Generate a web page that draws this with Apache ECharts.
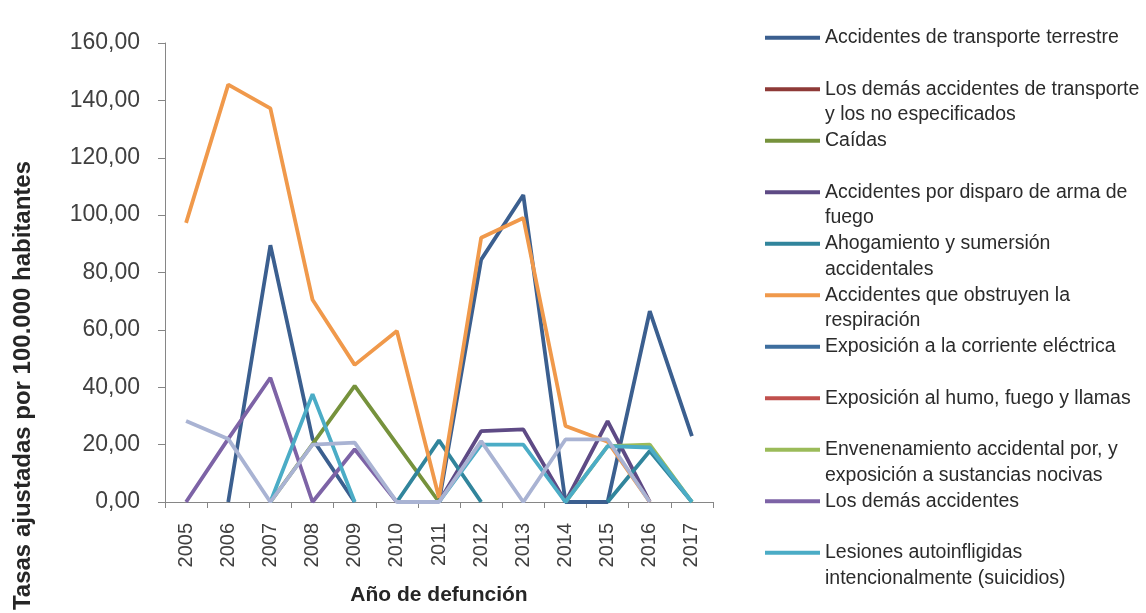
<!DOCTYPE html>
<html>
<head>
<meta charset="utf-8">
<script src="https://cdn.jsdelivr.net/npm/echarts@6/dist/echarts.min.js"></script>
<style>
  html, body { margin: 0; padding: 0; background: #fff; }
  #chartContainer { width: 1146px; height: 613px; }
</style>
</head>
<body>
<div id="chartContainer"></div>
<script>
'use strict';
// años (eje x)
var years = ['2005','2006','2007','2008','2009','2010','2011','2012','2013','2014','2015','2016','2017'];

// tasas por causa (null = sin dato)
var transporteTerrestre = [null, 0, 89.5, 22, 0, null, 0, 84.5, 107, 0, 0, 66.5, 23];
var demasTransporte     = [null, null, null, null, null, null, null, null, null, null, null, null, null];
var caidas              = [null, null, 0, 20.2, 40.5, 20.2, 0, null, null, null, null, null, null];
var disparoArma         = [null, null, null, null, null, null, 0, 24.7, 25.3, 0, 28.2, 0, null];
var ahogamiento         = [null, null, null, null, null, 0, 21.5, 0, null, null, 0, 17.8, 0];
var obstruyenResp       = [97.3, 145.5, 137.2, 70.5, 47.8, 59.6, 1.5, 92.1, 99, 26.5, 21, 0, null];
var corrienteElectrica  = [null, null, null, null, null, null, null, null, null, null, null, null, null];
var humoFuego           = [null, null, null, null, null, null, null, null, null, null, null, null, null];
var envenenamiento      = [null, null, null, null, null, null, null, null, null, 0, 19.5, 20, 0];
var demasAccidentes     = [0, 22, 43.3, 0, 18.4, 0, null, null, null, null, null, null, null];
var lesiones            = [null, null, 0, 37.6, 0, null, 0, 20, 20, 0, 19.5, 19, 0];
var otrasCausas         = [28.2, 22, 0, 20, 20.7, 0, 0, 21.2, 0, 21.8, 21.8, 0, null];

// nombres de la leyenda
var names = [
    'Accidentes de transporte terrestre',
    'Los demás accidentes de transporte y los no especificados',
    'Caídas',
    'Accidentes por disparo de arma de fuego',
    'Ahogamiento y sumersión accidentales',
    'Accidentes que obstruyen la respiración',
    'Exposición a la corriente eléctrica',
    'Exposición al humo, fuego y llamas',
    'Envenenamiento accidental por, y exposición a sustancias nocivas',
    'Los demás accidentes',
    'Lesiones autoinfligidas intencionalmente (suicidios)'
];
// texto partido en dos renglones como en el original
var legendLines = [
    ['Accidentes de transporte terrestre', ''],
    ['Los demás accidentes de transporte', 'y los no especificados'],
    ['Caídas', ''],
    ['Accidentes por disparo de arma de', 'fuego'],
    ['Ahogamiento y sumersión', 'accidentales'],
    ['Accidentes que obstruyen la', 'respiración'],
    ['Exposición a la corriente eléctrica', ''],
    ['Exposición al humo, fuego y llamas', ''],
    ['Envenenamiento accidental por, y', 'exposición a sustancias nocivas'],
    ['Los demás accidentes', ''],
    ['Lesiones autoinfligidas', 'intencionalmente (suicidios)']
];

var colors = ['#3B5F8F', '#8E3A37', '#76923C', '#5E4A85', '#31859C', '#F0994B',
              '#3D6E9E', '#C0504D', '#9BBB59', '#7D63A6', '#4BACC6', '#A9B3D3'];
var values = [transporteTerrestre, demasTransporte, caidas, disparoArma, ahogamiento, obstruyenResp,
              corrienteElectrica, humoFuego, envenenamiento, demasAccidentes, lesiones, otrasCausas];

var series = [];
for (var i = 0; i < values.length; i++) {
    series.push({
        name: i < names.length ? names[i] : 'Otras',
        type: 'line',
        data: values[i],
        symbol: 'none',
        connectNulls: false,
        lineStyle: { width: 3.8, color: colors[i] },
        itemStyle: { color: colors[i] },
        emphasis: { disabled: true }
    });
}

var myChart = echarts.init(document.getElementById('chartContainer'));
var option = {
    animation: false,
    textStyle: { fontFamily: 'Liberation Sans, Arial, sans-serif' },
    grid: { left: 165, top: 43, width: 548, height: 459, containLabel: false },
    legend: {
        orient: 'vertical',
        left: 765,
        top: -1,
        padding: 0,
        itemGap: -25.75,
        itemWidth: 55,
        itemHeight: 4,
        icon: 'rect',
        data: names,
        // renglón vacío arriba para que el icono quede a la altura del primer renglón
        formatter: function (name) {
            var l = legendLines[names.indexOf(name)];
            return '\u00a0\n' + l[0] + '\n' + (l[1] || '\u00a0');
        },
        textStyle: {
            fontSize: 19.5,
            color: '#2b2b2b',
            lineHeight: 25.75
        }
    },
    xAxis: {
        type: 'category',
        data: years,
        boundaryGap: true,
        name: 'Año de defunción',
        nameLocation: 'middle',
        nameGap: 83,
        nameTextStyle: { fontSize: 21, fontWeight: 'bold', color: '#262626' },
        axisLine: { lineStyle: { color: '#868686', width: 1 } },
        axisTick: { show: true, length: 6, lineStyle: { color: '#868686' } },
        axisLabel: { rotate: 90, fontSize: 20, color: '#404040', margin: 21 }
    },
    yAxis: {
        type: 'value',
        min: 0,
        max: 160,
        interval: 20,
        name: 'Tasas ajustadas por 100.000 habitantes',
        nameLocation: 'middle',
        nameGap: 130,
        nameTextStyle: { fontSize: 24, fontWeight: 'bold', color: '#262626', padding: [0, 226, 0, 0] },
        axisLine: { show: true, lineStyle: { color: '#868686', width: 1 } },
        axisTick: { show: true, length: 7, lineStyle: { color: '#868686' } },
        splitLine: { show: false },
        axisLabel: {
            fontSize: 23,
            color: '#404040',
            margin: 25,
            formatter: function (v) { return v.toFixed(2).replace('.', ','); }
        }
    },
    series: series
};
myChart.setOption(option);
</script>
</body>
</html>
